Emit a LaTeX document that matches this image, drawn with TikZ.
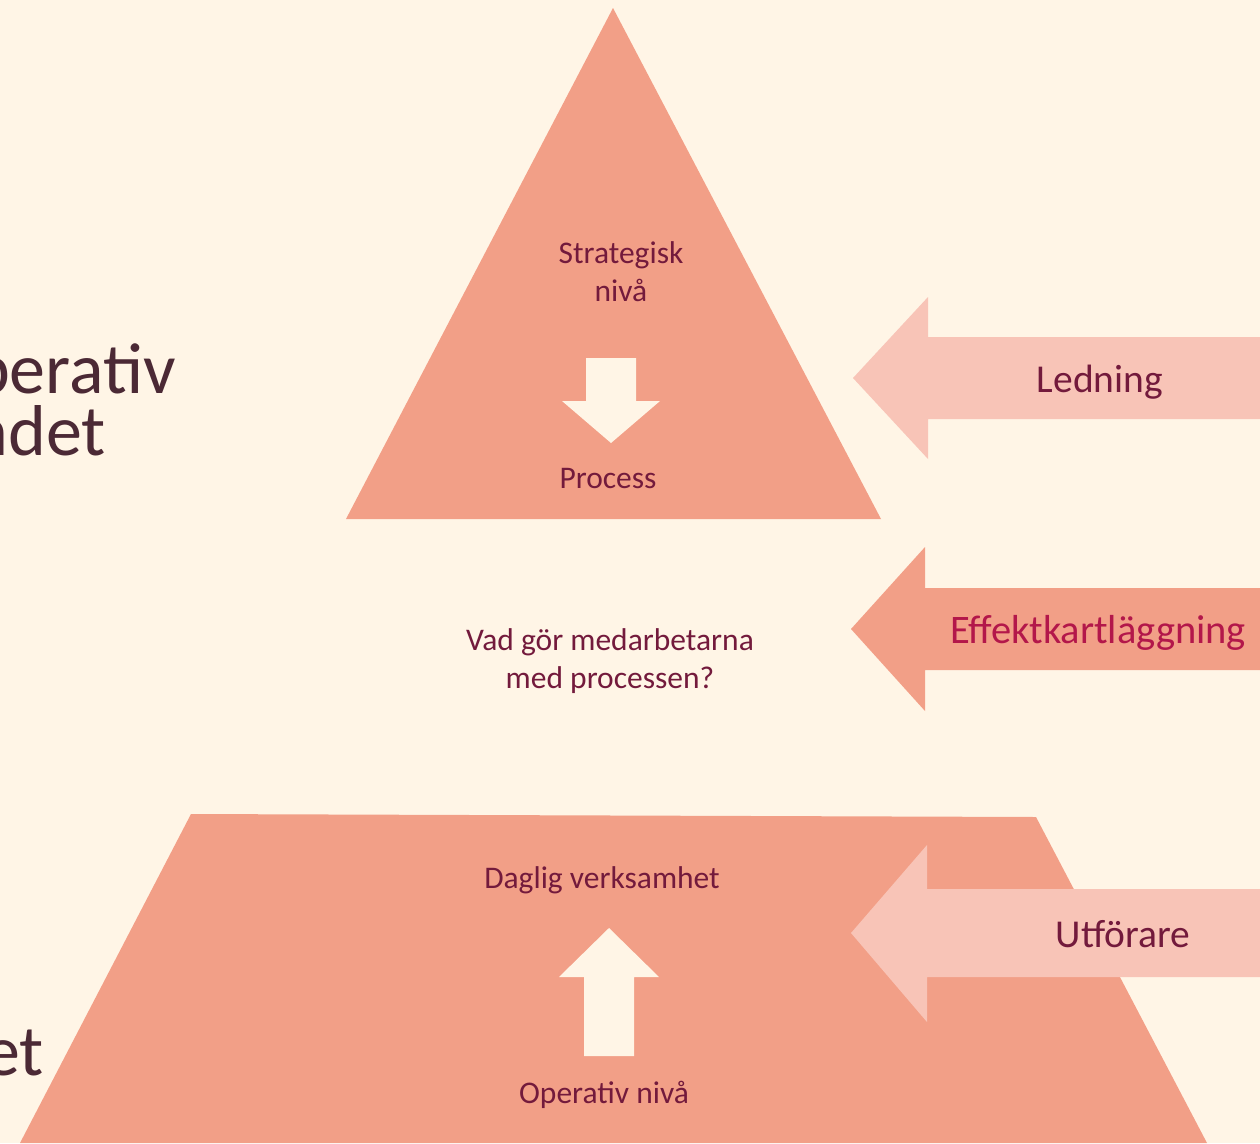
\documentclass[tikz,border=0pt]{standalone}
\usepackage{fontspec}
\setmainfont{Carlito}
\definecolor{cream}{HTML}{FFF5E6}
\definecolor{salmon}{HTML}{F29F87}
\definecolor{blush}{HTML}{F8C4B7}
\definecolor{wine}{HTML}{731A3C}
\definecolor{crimson}{HTML}{B3174A}
\definecolor{plum}{HTML}{4B2935}

\begin{document}
\begin{tikzpicture}[x=1pt,y=-1pt,
  lbl/.style={text=wine,align=center,inner sep=0pt,font=\fontsize{31.5}{38}\selectfont},
  tag/.style={text=wine,inner sep=0pt,anchor=base,font=\fontsize{39.5}{46}\selectfont},
  big/.style={text=plum,inner sep=0pt,anchor=base east,font=\fontsize{72}{62}\selectfont}]
  \clip (0,0) rectangle (1260,1143);
  \fill[cream] (0,0) rectangle (1260,1143);

  % the two levels
  \fill[salmon] (613,8) -- (881,519) -- (346,519) -- cycle;
  \fill[salmon] (191,814) -- (1036,817) -- (1207,1143) -- (20,1143) -- cycle;

  % arrows inside
  \fill[cream] (586,358) -- (636,358) -- (636,401) -- (660,401) -- (611,443)
    -- (562,401) -- (586,401) -- cycle;
  \fill[cream] (584,1056) -- (634,1056) -- (634,977) -- (659,977) -- (609,928)
    -- (559,977) -- (584,977) -- cycle;

  % arrows from the right
  \fill[blush] (853,378) -- (928,297) -- (928,337) -- (1260,337) -- (1260,419)
    -- (928,419) -- (928,459) -- cycle;
  \fill[salmon] (851,629) -- (925,547) -- (925,588) -- (1260,588) -- (1260,670)
    -- (925,670) -- (925,711) -- cycle;
  \fill[blush] (851,933) -- (927,845) -- (927,889) -- (1260,889) -- (1260,977)
    -- (927,977) -- (927,1022) -- cycle;

  \node[lbl] (strat) at (621,272) {Strategisk\\nivå};
  \node[lbl] (proc) at (608,479) {Process};
  \node[lbl] (vad) at (610,661) {Vad gör medarbetarna\\med processen?};
  \node[lbl] (daglig) at (602,880) {Daglig verksamhet};
  \node[lbl] (oper) at (604,1095) {Operativ nivå};

  \node[tag] (led) at (1100,392) {Ledning};
  \node[tag,font=\fontsize{40.5}{46}\selectfont,text=crimson] (eff) at (1098,643) {Effektkartläggning};
  \node[tag] (utf) at (1123,947) {Utförare};

  % text cut off at the left edge
  \node[big] (op1) at (176,393) {Operativ};
  \node[big] (op2) at (106,455) {ndet};
  \node[big] (op3) at (44,1075) {et};
\end{tikzpicture}
\end{document}
